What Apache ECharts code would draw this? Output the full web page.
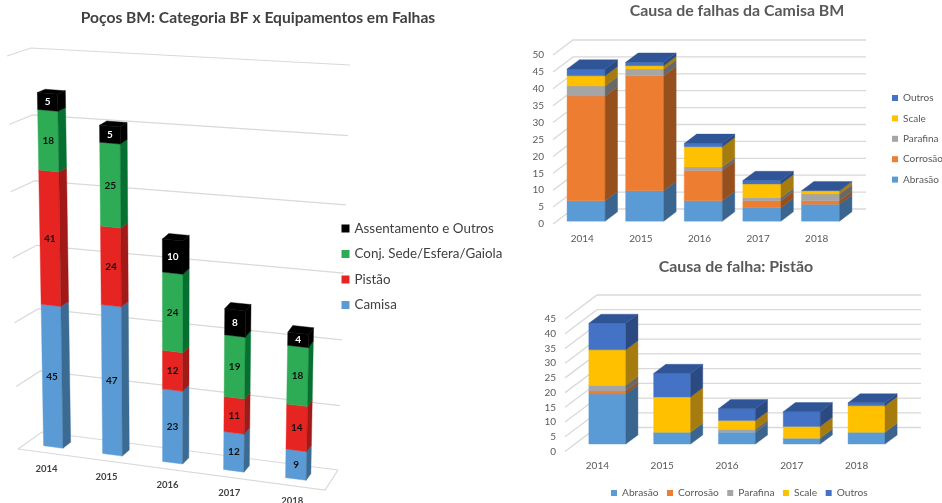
<!DOCTYPE html>
<html>
<head>
<meta charset="utf-8">
<script src="https://cdn.jsdelivr.net/npm/echarts@6/dist/echarts.min.js"></script>
<style>html,body{margin:0;padding:0;background:#fff}#c{width:942px;height:503px}</style>
</head>
<body>
<div id="c"></div>
<script>
const categories = ['2014', '2015', '2016', '2017', '2018'];

const bfCamisa = [45, 47, 23, 12, 9];
const bfPistao = [41, 24, 12, 11, 14];
const bfConj = [18, 25, 24, 19, 18];
const bfAssentamento = [5, 5, 10, 8, 4];
const bfTicks = [0, 20, 40, 60, 80, 100, 120];

const camisaAbrasao = [6, 9, 6, 4, 5];
const camisaCorrosao = [31, 34, 9, 2, 1];
const camisaParafina = [3, 2, 1, 1, 2];
const camisaScale = [3, 1, 6, 4, 1];
const camisaOutros = [2, 1, 1, 1, 0];
const camisaTicks = [0, 5, 10, 15, 20, 25, 30, 35, 40, 45, 50];

const pistaoAbrasao = [17, 4, 4, 2, 4];
const pistaoCorrosao = [1, 0, 0, 0, 0];
const pistaoParafina = [2, 0, 1, 0, 0];
const pistaoScale = [12, 12, 3, 4, 9];
const pistaoOutros = [9, 8, 4, 5, 1];
const pistaoTicks = [0, 5, 10, 15, 20, 25, 30, 35, 40, 45];

const FONT = 'Lato, "Open Sans", sans-serif';
const C = {
  Camisa: ['#5B9BD5', '#3B6A92', '#5B9BD5'],
  'Pistão': ['#E62421', '#A11A17', '#E62421'],
  'Conj. Sede/Esfera/Gaiola': ['#2DAB55', '#067031', '#2DAB55'],
  'Assentamento e Outros': ['#000000', '#000000', '#000000'],
  'Abrasão': ['#5B9BD5', '#39658F', '#2F5597'],
  'Corrosão': ['#ED7D31', '#95501E', '#2F5597'],
  Parafina: ['#A5A5A5', '#686868', '#2F5597'],
  Scale: ['#FFC000', '#A67C0F', '#2F5597'],
  Outros: ['#4472C4', '#2B4A82', '#2F5597']
};

function lerp(a, b, t) { return a + (b - a) * t; }

/* Perspective box of the left chart: corners of the plot box on the page. */
const box = {
  fbl: [18, 449], bbl: [42, 432], fbr: [325, 490], bbr: [338, 470],
  ftl: [7, 56], btl: [31, 48], ftr: [337, 87], btr: [350, 65]
};
function perspective(c, px, py, w) {
  let u = (px - c.x) / c.width, v = (c.y + c.height - py) / c.height;
  const rawU = u, rawV = v;
  u = u - 0.04 * u * (1 - u);
  v = v - 0.055 * v * (1 - v);
  const out = [];
  for (let i = 0; i < 2; i++) {
    const bot = lerp(lerp(box.fbl[i], box.fbr[i], u), lerp(box.bbl[i], box.bbr[i], u), w);
    const top = lerp(lerp(box.ftl[i], box.ftr[i], u), lerp(box.btl[i], box.btr[i], u), w);
    out.push(lerp(bot, top, v));
  }
  out[0] -= (rawU - 0.5) * rawV * 7 * 4 * w * (1 - w);
  return out;
}
function oblique(dx, dy) {
  return function (c, px, py, w) { return [px + w * dx, py + w * dy]; };
}

const panels = [
  { id: 0, project: perspective, barRatio: 0.33, shift: -2, w0: 0.33, w1: 0.67, labels: true,
    ticks: bfTicks, floor: true, lineWidth: 1.2,
    stack: [['Camisa', bfCamisa], ['Pistão', bfPistao], ['Conj. Sede/Esfera/Gaiola', bfConj], ['Assentamento e Outros', bfAssentamento]] },
  { id: 1, project: oblique(20, -15), barRatio: 0.65, shift: 0, w0: 0.19, w1: 0.81,
    ticks: camisaTicks, lineWidth: 1.3,
    stack: [['Abrasão', camisaAbrasao], ['Corrosão', camisaCorrosao], ['Parafina', camisaParafina], ['Scale', camisaScale], ['Outros', camisaOutros]] },
  { id: 2, project: oblique(32, -24), barRatio: 0.57, shift: 0, w0: 0.31, w1: 0.69,
    ticks: pistaoTicks, lineWidth: 1.3,
    stack: [['Abrasão', pistaoAbrasao], ['Corrosão', pistaoCorrosao], ['Parafina', pistaoParafina], ['Scale', pistaoScale], ['Outros', pistaoOutros]] }
];

function gridSeries(p) {
  return {
    type: 'custom', name: 'grade' + p.id, xAxisIndex: p.id, yAxisIndex: p.id, silent: true, z: 1,
    data: p.ticks.map(t => [t]),
    encode: { y: 0 },
    renderItem: function (params, api) {
      const c = params.coordSys;
      const y = api.coord([0, api.value(0)])[1];
      const l = c.x, r = c.x + c.width;
      const style = { stroke: '#d9d9d9', lineWidth: p.lineWidth, fill: null };
      const kids = [{
        type: 'polyline', silent: true,
        shape: { points: [p.project(c, l, y, 0), p.project(c, l, y, 1), p.project(c, r, y, 1)] },
        style: style
      }];
      if (p.floor && params.dataIndex === 0) {
        kids.push({
          type: 'polyline', silent: true,
          shape: { points: [p.project(c, l, y, 0), p.project(c, r, y, 0), p.project(c, r, y, 1)] },
          style: style
        });
      }
      return { type: 'group', children: kids };
    }
  };
}

function barSeries(p) {
  const running = categories.map(() => 0);
  return p.stack.map(function (item, si) {
    const name = item[0], values = item[1];
    const colors = C[name];
    const isLast = si === p.stack.length - 1;
    const rows = values.map(function (v, i) {
      const row = [i, running[i], running[i] + v, v];
      running[i] += v;
      return row;
    });
    return {
      type: 'custom', name: name, xAxisIndex: p.id, yAxisIndex: p.id, z: 2,
      itemStyle: { color: colors[0] },
      data: rows,
      encode: { x: 0, y: [1, 2] },
      renderItem: function (params, api) {
        const v = api.value(3);
        if (v === 0 && !isLast) return null;
        const c = params.coordSys;
        const low = api.coord([api.value(0), api.value(1)]);
        const high = api.coord([api.value(0), api.value(2)]);
        const half = api.size([1, 0])[0] * p.barRatio / 2;
        const x0 = low[0] + p.shift - half, x1 = low[0] + p.shift + half;
        const P = (x, y, w) => p.project(c, x, y, w);
        const poly = (pts, fill) => ({
          type: 'polygon', silent: true, shape: { points: pts },
          style: { fill: fill, stroke: fill, lineWidth: 0.4 }
        });
        const kids = [];
        if (v > 0) {
          kids.push(poly([P(x0, low[1], p.w0), P(x1, low[1], p.w0), P(x1, high[1], p.w0), P(x0, high[1], p.w0)], colors[0]));
          kids.push(poly([P(x1, low[1], p.w0), P(x1, low[1], p.w1), P(x1, high[1], p.w1), P(x1, high[1], p.w0)], colors[1]));
        }
        if (isLast) {
          kids.push(poly([P(x0, high[1], p.w0), P(x1, high[1], p.w0), P(x1, high[1], p.w1), P(x0, high[1], p.w1)], colors[2]));
        }
        if (p.labels) {
          const mid = P(low[0] + p.shift, (low[1] + high[1]) / 2, p.w0);
          kids.push({
            type: 'text', silent: true,
            style: {
              text: String(v), x: mid[0], y: mid[1], align: 'center', verticalAlign: 'middle',
              fill: name === 'Assentamento e Outros' ? '#ffffff' : '#111111',
              font: 'bold 10px ' + FONT
            }
          });
        }
        return { type: 'group', children: kids };
      }
    };
  });
}

function perspectiveLabels(p) {
  return {
    type: 'custom', name: 'anos', xAxisIndex: p.id, yAxisIndex: p.id, silent: true, z: 3,
    data: categories.map((t, i) => [i, 0]),
    encode: { x: 0, y: 1 },
    renderItem: function (params, api) {
      const c = params.coordSys;
      const a = api.coord([api.value(0), api.value(1)]);
      const q = p.project(c, a[0], a[1], 0);
      return {
        type: 'text', silent: true,
        style: {
          text: categories[api.value(0)], x: q[0] - 1, y: q[1] + 15.5, align: 'center', verticalAlign: 'middle',
          fill: '#404040', font: 'bold 9.5px ' + FONT
        }
      };
    }
  };
}

const axisText = { color: '#595959', fontSize: 10, fontFamily: FONT };
const legendBase = { icon: 'rect', itemWidth: 7, itemHeight: 7, selectedMode: false };

const option = {
  animation: false,
  backgroundColor: '#ffffff',
  title: [
    { text: 'Poços BM: Categoria BF x Equipamentos em Falhas', left: 253, top: 5, textAlign: 'center',
      textStyle: { fontSize: 15.6, fontWeight: 'bold', color: '#404040', fontFamily: FONT } },
    { text: 'Causa de falhas da Camisa BM', left: 732, top: -2, textAlign: 'center',
      textStyle: { fontSize: 15.9, fontWeight: 'bold', color: '#595959', fontFamily: FONT } },
    { text: 'Causa de falha: Pistão', left: 731, top: 254, textAlign: 'center',
      textStyle: { fontSize: 15.9, fontWeight: 'bold', color: '#595959', fontFamily: FONT } }
  ],
  legend: [
    Object.assign({}, legendBase, { orient: 'vertical', left: 336.5, top: 217, itemGap: 12.5, itemWidth: 8, itemHeight: 8,
      data: ['Assentamento e Outros', 'Conj. Sede/Esfera/Gaiola', 'Pistão', 'Camisa'],
      textStyle: { color: '#404040', fontSize: 13.4, fontFamily: FONT } }),
    Object.assign({}, legendBase, { orient: 'vertical', left: 887, top: 88, itemGap: 10.4, itemWidth: 6, itemHeight: 6,
      data: ['Outros', 'Scale', 'Parafina', 'Corrosão', 'Abrasão'],
      textStyle: { color: '#595959', fontSize: 10, fontFamily: FONT } }),
    Object.assign({}, legendBase, { orient: 'horizontal', left: 606, top: 483, itemGap: 8.5, itemWidth: 6, itemHeight: 6,
      data: ['Abrasão', 'Corrosão', 'Parafina', 'Scale', 'Outros'],
      textStyle: { color: '#595959', fontSize: 10.2, fontFamily: FONT } })
  ],
  grid: [
    { left: 18, top: 56, width: 307, height: 393 },
    { left: 553, top: 55, width: 293, height: 169 },
    { left: 565, top: 319, width: 324, height: 132.5 }
  ],
  xAxis: [
    { gridIndex: 0, type: 'category', data: categories, show: false },
    { gridIndex: 1, type: 'category', data: categories, axisLine: { show: false }, axisTick: { show: false },
      axisLabel: Object.assign({ margin: 10 }, axisText) },
    { gridIndex: 2, type: 'category', data: categories, axisLine: { show: false }, axisTick: { show: false },
      axisLabel: Object.assign({ margin: 9 }, axisText) }
  ],
  yAxis: [
    { gridIndex: 0, type: 'value', min: 0, max: 120, interval: 20, show: false, splitLine: { show: false } },
    { gridIndex: 1, type: 'value', min: 0, max: 50, interval: 5, axisLine: { show: false }, axisTick: { show: false },
      splitLine: { show: false }, axisLabel: Object.assign({ margin: 9 }, axisText) },
    { gridIndex: 2, type: 'value', min: 0, max: 45, interval: 5, axisLine: { show: false }, axisTick: { show: false },
      splitLine: { show: false }, axisLabel: Object.assign({ margin: 9 }, axisText) }
  ],
  series: [].concat(
    panels.map(gridSeries),
    barSeries(panels[0]), barSeries(panels[1]), barSeries(panels[2]),
    [perspectiveLabels(panels[0])]
  )
};

const chart = echarts.init(document.getElementById('c'), null, { renderer: 'canvas' });
chart.setOption(option);
</script>
</body>
</html>
